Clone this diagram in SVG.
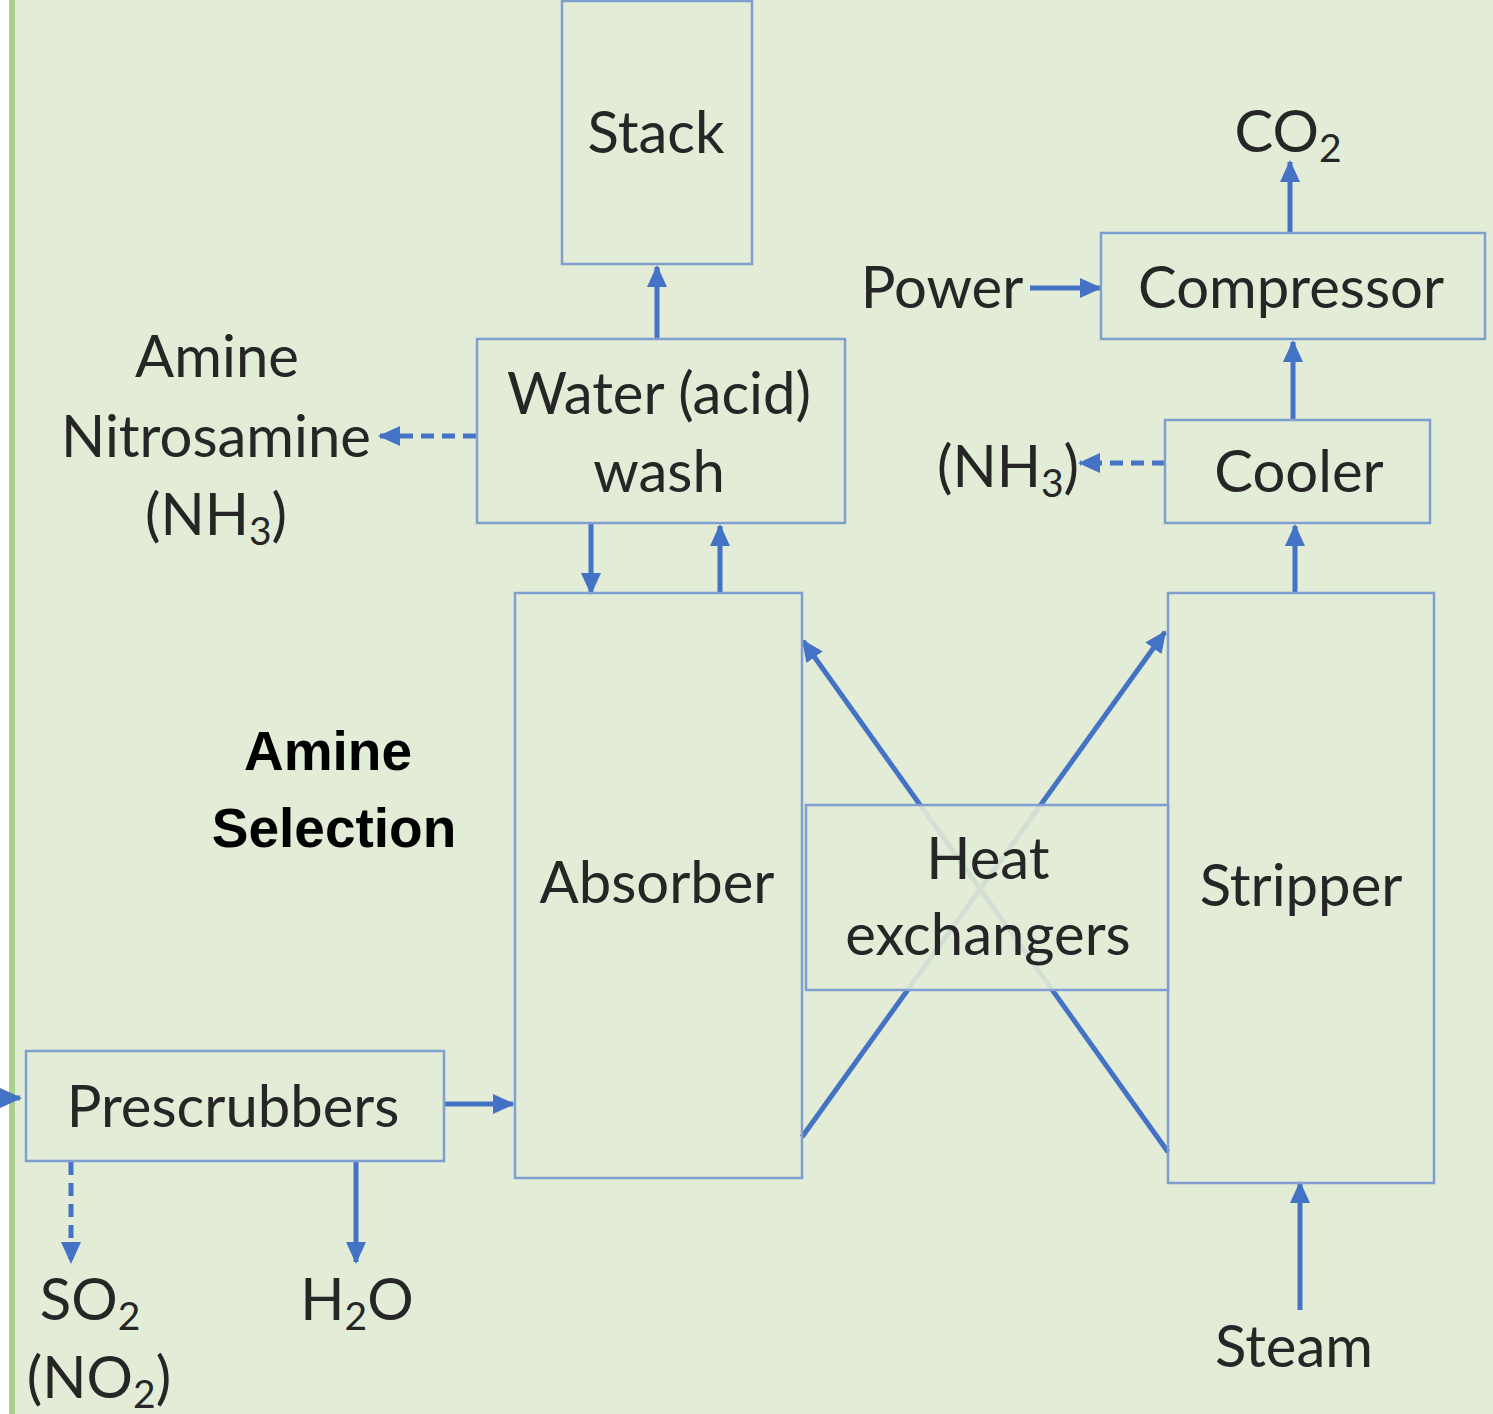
<svg xmlns="http://www.w3.org/2000/svg" width="1493" height="1414" viewBox="0 0 1493 1414">
<defs>
<marker id="ah" markerUnits="userSpaceOnUse" markerWidth="22" markerHeight="22" viewBox="0 0 22 22" refX="20" refY="11" orient="auto">
<path d="M0,1 L22,11 L0,21 Z" fill="#4472c4"/>
</marker>
<style>
.bg{fill:#e2ecd6}
.box{fill:none;stroke:#7f9fd0;stroke-width:2.5}
.hx{fill:#e2ecd6;fill-opacity:0.9;stroke:#7f9fd0;stroke-width:2.5}
.c{fill:none;stroke:#4472c4;stroke-width:5;marker-end:url(#ah)}
.d{stroke-dasharray:13 8}
.t{font-family:Lato,"Liberation Sans",sans-serif;font-size:58px;fill:#262626;text-anchor:middle}
.b{font-family:"Liberation Sans",Arial,sans-serif;font-size:55px;font-weight:bold;fill:#000;text-anchor:middle}
.s{font-size:39px}
</style>
</defs>
<rect width="1493" height="1414" fill="#ffffff"/>
<rect x="9" y="0" width="1484" height="1414" class="bg"/>
<rect x="9" y="0" width="6" height="1414" fill="#a9cf8f"/>

<g id="connectors">
<line class="c" x1="657" y1="339" x2="657" y2="267"/>
<line class="c" x1="591" y1="523" x2="591" y2="593"/>
<line class="c" x1="720" y1="593" x2="720" y2="526"/>
<line class="c d" x1="476" y1="436" x2="380" y2="436"/>
<line class="c" x1="1290" y1="233" x2="1290" y2="162"/>
<line class="c" x1="1030" y1="288" x2="1100" y2="288"/>
<line class="c" x1="1293" y1="420" x2="1293" y2="342"/>
<line class="c d" x1="1165" y1="463" x2="1080" y2="463"/>
<line class="c" x1="1295" y1="593" x2="1295" y2="526"/>
<line class="c" x1="1300" y1="1310" x2="1300" y2="1183"/>
<line class="c" x1="444" y1="1104" x2="513" y2="1104"/>
<line class="c" x1="-10" y1="1098" x2="20" y2="1098"/>
<line class="c d" x1="71" y1="1162" x2="71" y2="1262"/>
<line class="c" x1="356" y1="1162" x2="356" y2="1262"/>
<line class="c" x1="1168" y1="1152" x2="803" y2="641"/>
<line class="c" x1="802" y1="1137" x2="1165" y2="632"/>
</g>

<g id="stack"><rect class="box" x="562" y="1" width="190" height="263"/><text class="t" x="656" y="153">Stack</text></g>
<g id="water-wash"><rect class="box" x="477" y="339" width="368" height="184"/><text class="t" x="659" y="414">Water (acid)</text><text class="t" x="659" y="492">wash</text></g>
<g id="amine-out"><text class="t" x="217" y="377">Amine</text><text class="t" x="216" y="457">Nitrosamine</text><text class="t" x="216" y="535">(NH<tspan class="s" dy="10">3</tspan><tspan dy="-10">)</tspan></text></g>
<g id="co2"><text class="t" x="1288" y="152">CO<tspan class="s" dy="10">2</tspan></text></g>
<g id="power"><text class="t" x="942" y="308">Power</text></g>
<g id="compressor"><rect class="box" x="1101" y="233" width="384" height="106"/><text class="t" x="1291" y="308">Compressor</text></g>
<g id="nh3-out"><text class="t" x="1008" y="487">(NH<tspan class="s" dy="10">3</tspan><tspan dy="-10">)</tspan></text></g>
<g id="cooler"><rect class="box" x="1165" y="420" width="265" height="103"/><text class="t" x="1299" y="492">Cooler</text></g>
<g id="amine-selection"><text class="b" x="328" y="770">Amine</text><text class="b" x="334" y="847">Selection</text></g>
<g id="absorber"><rect class="box" x="515" y="593" width="287" height="585"/><text class="t" x="657" y="903">Absorber</text></g>
<g id="stripper"><rect class="box" x="1168" y="593" width="266" height="590"/><text class="t" x="1301" y="906">Stripper</text></g>
<g id="heat-exchangers"><rect class="hx" x="806" y="805" width="362" height="185"/><text class="t" x="988" y="879">Heat</text><text class="t" x="988" y="955">exchangers</text></g>
<g id="prescrubbers"><rect class="box" x="26" y="1051" width="418" height="110"/><text class="t" x="233" y="1127">Prescrubbers</text></g>
<g id="so2"><text class="t" x="90" y="1320">SO<tspan class="s" dy="10">2</tspan></text><text class="t" x="99" y="1398">(NO<tspan class="s" dy="10">2</tspan><tspan dy="-10">)</tspan></text></g>
<g id="h2o"><text class="t" x="357" y="1320">H<tspan class="s" dy="10">2</tspan><tspan dy="-10">O</tspan></text></g>
<g id="steam"><text class="t" x="1294" y="1367">Steam</text></g>
</svg>
